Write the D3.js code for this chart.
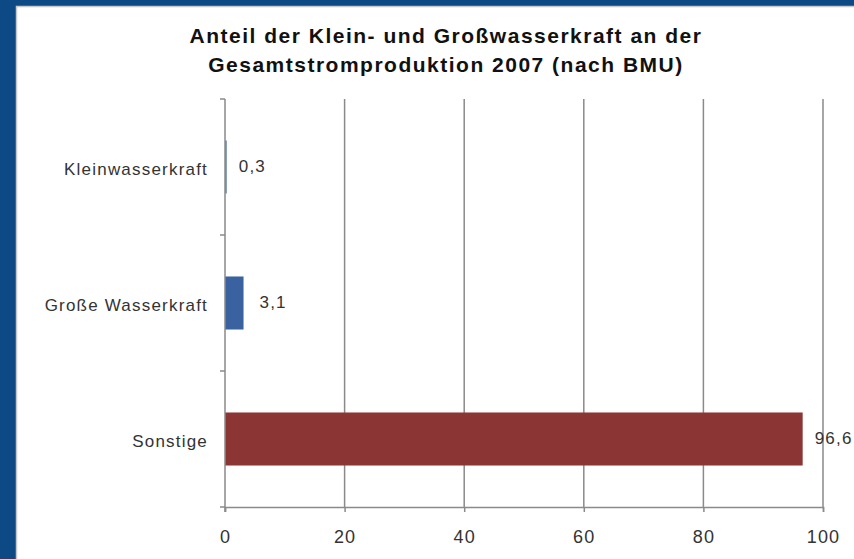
<!DOCTYPE html>
<html><head><meta charset="utf-8">
<script src="https://cdn.jsdelivr.net/npm/d3@7"></script>
<style>body{margin:0;background:#0d4a85;}svg{display:block;}</style>
</head><body>
<svg id="c" width="854" height="559"></svg>
<script>
const categories = ["Kleinwasserkraft", "Große Wasserkraft", "Sonstige"];
const values = [0.3, 3.1, 96.6];
const valueLabels = ["0,3", "3,1", "96,6"];
const colors = ["#6f87a8", "#3a62a0", "#8c3535"];
const xTicks = [0, 20, 40, 60, 80, 100];
const titleLines = ["Anteil der Klein- und Großwasserkraft an der", "Gesamtstromproduktion 2007 (nach BMU)"];

const svg = d3.select("#c");
svg.append("rect").attr("x",0).attr("y",0).attr("width",854).attr("height",559).attr("fill","#0d4a85");
svg.append("rect").attr("x",16.5).attr("y",6.5).attr("width",850).attr("height",560).attr("fill","#fff").attr("stroke","#c8c8c8").attr("stroke-width",1.5);

const x = d3.scaleLinear().domain([0,100]).range([225,823]);
const y = d3.scaleBand().domain(categories).range([99,507]).paddingInner(0.61).paddingOuter(0.305);
const yb = d3.scaleBand().domain(categories).range([99,507]);

const font = "'Liberation Sans', Arial, sans-serif";

svg.selectAll("text.title").data(titleLines).enter().append("text")
  .attr("x",446).attr("y",(d,i)=>43+i*29).attr("text-anchor","middle")
  .attr("font-family",font).attr("font-weight","bold").attr("font-size",21).attr("letter-spacing",1.5)
  .attr("fill","#111").text(d=>d);

// grid lines
svg.selectAll("line.grid").data(xTicks.slice(1)).enter().append("line")
  .attr("x1",d=>x(d)).attr("x2",d=>x(d)).attr("y1",99).attr("y2",507)
  .attr("stroke","#8a8a8a").attr("stroke-width",1.5);

// bars
svg.selectAll("rect.bar").data(values).enter().append("rect")
  .attr("x",x(0)).attr("y",(d,i)=>y(categories[i]))
  .attr("width",d=>x(d)-x(0)).attr("height",y.bandwidth())
  .attr("fill",(d,i)=>colors[i]);

// x axis
const xAxis = svg.append("g").attr("transform","translate(0,507)")
  .call(d3.axisBottom(x).tickValues(xTicks).tickSize(5).tickPadding(18).tickFormat(d3.format("d")));
xAxis.select(".domain").attr("stroke","#8a8a8a").attr("stroke-width",1.5);
xAxis.selectAll(".tick line").attr("stroke","#8a8a8a").attr("stroke-width",1.5);
xAxis.selectAll("text").attr("font-family",font).attr("font-size",18).attr("letter-spacing",1.2).attr("fill","#333");

// y axis
const yAxis = svg.append("g").attr("transform","translate(225,0)");
yAxis.append("line").attr("x1",0).attr("x2",0).attr("y1",99).attr("y2",512).attr("stroke","#8a8a8a").attr("stroke-width",1.5);
const bounds = categories.map(c=>yb(c)).concat([yb.range()[1]]);
yAxis.selectAll("line.t").data(bounds).enter().append("line")
  .attr("x1",-5).attr("x2",0).attr("y1",d=>d).attr("y2",d=>d).attr("stroke","#8a8a8a").attr("stroke-width",1.5);
yAxis.selectAll("text").data(categories).enter().append("text")
  .attr("x",-17).attr("y",d=>yb(d)+yb.bandwidth()/2+2).attr("dy","0.35em").attr("text-anchor","end")
  .attr("font-family",font).attr("font-size",17).attr("letter-spacing",1.2).attr("fill","#333").text(d=>d);

// value labels
svg.selectAll("text.val").data(values).enter().append("text")
  .attr("x",(d,i)=>x(d)+(i===1?16:12)).attr("y",(d,i)=>yb(categories[i])+yb.bandwidth()/2-1).attr("dy","0.35em")
  .attr("font-family",font).attr("font-size",17).attr("letter-spacing",1.2).attr("fill","#333").text((d,i)=>valueLabels[i]);
</script>
</body></html>
